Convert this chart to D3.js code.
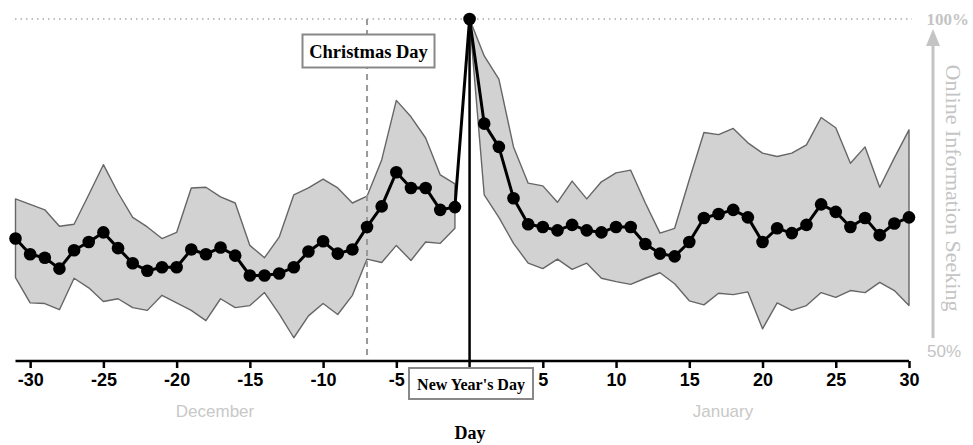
<!DOCTYPE html>
<html>
<head>
  <meta charset="utf-8">
  <title>Online Information Seeking around New Year</title>
  <script src="https://d3js.org/d3.v7.min.js"></script>
  <style>
    body { margin: 0; background: #fff; }
  </style>
</head>
<body>
  <svg width="973" height="445"></svg>
  <script>
    // day relative to New Year's Day
    const days = d3.range(-31, 31);

    // mean online information seeking (% of peak)
    const meanValues = [
      67.9, 65.6, 65.1, 63.5, 66.2, 67.4, 68.8, 66.5, 64.3, 63.2,
      63.7, 63.7, 66.3, 65.6, 66.6, 65.4, 62.5, 62.5, 62.8, 63.7,
      66.0, 67.5, 65.7, 66.3, 69.6, 72.6, 77.6, 75.3, 75.3, 72.1,
      72.5, 100,
      84.7, 81.3, 73.8, 70.0, 69.6, 69.1, 69.9, 69.1, 68.8, 69.6,
      69.6, 67.1, 65.7, 65.3, 67.4, 70.9, 71.5, 72.1, 71.0, 67.4,
      69.4, 68.7, 69.9, 72.9, 71.8, 69.6, 70.9, 68.4, 70.1, 71.0
    ];

    const upperValues = [
      73.7, 72.9, 72.1, 69.7, 70.0, 74.3, 78.7, 74.6, 71.0, 69.6,
      67.9, 68.8, 75.3, 75.4, 74.0, 73.1, 66.9, 65.1, 68.1, 74.3,
      75.3, 76.6, 75.3, 73.1, 74.1, 79.4, 88.1, 85.7, 82.6, 77.2,
      75.9, 100,
      94.6, 91.2, 81.3, 76.0, 75.6, 73.2, 76.3, 73.7, 76.2, 77.5,
      77.9, 73.1, 68.7, 69.4, 76.5, 83.4, 83.1, 84.0, 81.9, 80.4,
      79.9, 80.4, 81.6, 85.6, 84.1, 78.9, 81.3, 75.4, 79.7, 83.8
    ];

    const lowerValues = [
      62.2, 58.5, 58.4, 57.5, 62.1, 60.7, 58.7, 59.1, 57.8, 57.4,
      59.6, 58.5, 57.4, 55.9, 59.1, 57.8, 58.1, 60.0, 56.9, 53.4,
      56.6, 58.4, 56.8, 59.6, 64.9, 64.4, 66.9, 64.7, 67.4, 67.2,
      69.4, 100,
      74.3, 71.0, 67.2, 64.3, 63.5, 64.9, 63.4, 64.3, 62.1, 61.6,
      61.2, 62.1, 62.9, 61.3, 58.8, 58.2, 59.9, 59.7, 60.1, 54.7,
      58.5, 57.4, 58.1, 60.0, 59.3, 60.3, 60.0, 61.5, 60.3, 58.1
    ];

    const xTicks = [-30, -25, -20, -15, -10, -5, 0, 5, 10, 15, 20, 25, 30];
    const christmasDay = -7;
    const newYearsDay = 0;

    const data = days.map((d, i) => ({
      day: d, mean: meanValues[i], hi: upperValues[i], lo: lowerValues[i]
    }));

    const svg = d3.select("svg");

    const x = d3.scaleLinear().domain([-31, 30]).range([15.5, 909]);
    const y = d3.scaleLinear().domain([50, 100]).range([361, 19]);

    // top reference line at 100%
    svg.append("line")
      .attr("x1", 15).attr("x2", 912)
      .attr("y1", y(100)).attr("y2", y(100))
      .attr("stroke", "#aaa")
      .attr("stroke-width", 1.5)
      .attr("stroke-dasharray", "1.5,4");

    // spread band, drawn separately before and after New Year's Day
    const area = d3.area()
      .x(d => x(d.day))
      .y0(d => y(d.lo))
      .y1(d => y(d.hi));

    [data.filter(d => d.day < 0), data.filter(d => d.day >= 0)].forEach(seg => {
      svg.append("path")
        .datum(seg)
        .attr("d", area)
        .attr("fill", "#d2d2d2")
        .attr("stroke", "#666")
        .attr("stroke-width", 1.4)
        .attr("stroke-linejoin", "round");
    });

    // Christmas day marker
    svg.append("line")
      .attr("x1", x(christmasDay)).attr("x2", x(christmasDay))
      .attr("y1", y(100)).attr("y2", y(50) - 3)
      .attr("stroke", "#999")
      .attr("stroke-width", 2)
      .attr("stroke-dasharray", "6,5");

    // New Year's day marker
    svg.append("line")
      .attr("x1", x(newYearsDay)).attr("x2", x(newYearsDay))
      .attr("y1", y(100)).attr("y2", 368)
      .attr("stroke", "#000")
      .attr("stroke-width", 2.5);

    // x axis
    const xAxis = d3.axisBottom(x)
      .tickValues(xTicks.filter(t => t !== 0))
      .tickSize(7)
      .tickPadding(5)
      .tickFormat(d => String(d));

    const gx = svg.append("g")
      .attr("transform", `translate(0,${y(50)})`)
      .call(xAxis);
    gx.select(".domain")
      .attr("d", `M${x(-31)},0H${x(30)}`)
      .attr("stroke", "#000")
      .attr("stroke-width", 2.5);
    gx.selectAll(".tick line").attr("stroke", "#000").attr("stroke-width", 2.5);
    gx.selectAll(".tick text")
      .attr("fill", "#000")
      .style("font-family", "Liberation Sans, Arial, sans-serif")
      .style("font-size", "18px")
      .style("font-weight", "bold");

    // mean line with dots
    const line = d3.line().x(d => x(d.day)).y(d => y(d.mean));
    svg.append("path")
      .datum(data)
      .attr("d", line)
      .attr("fill", "none")
      .attr("stroke", "#000")
      .attr("stroke-width", 3)
      .attr("stroke-linejoin", "round");

    svg.selectAll("circle.pt")
      .data(data)
      .join("circle")
      .attr("class", "pt")
      .attr("cx", d => x(d.day))
      .attr("cy", d => y(d.mean))
      .attr("r", 6.3)
      .attr("fill", "#000");

    // annotation boxes
    function labelBox(cx, cy, w, h, text, size) {
      svg.append("rect")
        .attr("x", cx - w / 2).attr("y", cy - h / 2)
        .attr("width", w).attr("height", h)
        .attr("fill", "#fff")
        .attr("stroke", "#888")
        .attr("stroke-width", 2);
      svg.append("text")
        .attr("x", cx).attr("y", cy + 1)
        .attr("text-anchor", "middle")
        .attr("dominant-baseline", "central")
        .style("font-family", "Liberation Serif, Times New Roman, serif")
        .style("font-weight", "bold")
        .style("font-size", size + "px")
        .text(text);
    }
    labelBox(368.5, 51, 132, 33, "Christmas Day", 18.5);
    labelBox(471, 383.5, 124, 31, "New Year's Day", 16);

    // month labels
    svg.append("text")
      .attr("x", 215).attr("y", 411)
      .attr("text-anchor", "middle")
      .attr("dominant-baseline", "central")
      .attr("fill", "#c8c8c8")
      .style("font-family", "Liberation Sans, Arial, sans-serif")
      .style("font-size", "17px")
      .text("December");
    svg.append("text")
      .attr("x", 723).attr("y", 411)
      .attr("text-anchor", "middle")
      .attr("dominant-baseline", "central")
      .attr("fill", "#c8c8c8")
      .style("font-family", "Liberation Sans, Arial, sans-serif")
      .style("font-size", "17px")
      .text("January");

    // x title
    svg.append("text")
      .attr("x", 470).attr("y", 433)
      .attr("text-anchor", "middle")
      .attr("dominant-baseline", "central")
      .style("font-family", "Liberation Serif, Times New Roman, serif")
      .style("font-weight", "bold")
      .style("font-size", "18px")
      .text("Day");

    // right-hand grey arrow axis
    const ax = 933;
    svg.append("line")
      .attr("x1", ax).attr("x2", ax)
      .attr("y1", y(100) + 22).attr("y2", 338)
      .attr("stroke", "#c4c4c4")
      .attr("stroke-width", 3);
    svg.append("path")
      .attr("d", `M${ax - 7},${y(100) + 27}L${ax},${y(100) + 10}L${ax + 7},${y(100) + 27}Z`)
      .attr("fill", "#c4c4c4");

    svg.append("text")
      .attr("x", 969).attr("y", y(100))
      .attr("text-anchor", "end")
      .attr("dominant-baseline", "central")
      .attr("fill", "#c4c4c4")
      .style("font-family", "Liberation Serif, Times New Roman, serif")
      .style("font-weight", "bold")
      .style("font-size", "17px")
      .text("100%");
    svg.append("text")
      .attr("x", 961).attr("y", 351)
      .attr("text-anchor", "end")
      .attr("dominant-baseline", "central")
      .attr("fill", "#c4c4c4")
      .style("font-family", "Liberation Sans, Arial, sans-serif")
      .style("font-size", "17px")
      .text("50%");

    svg.append("text")
      .attr("transform", `translate(953,188) rotate(90)`)
      .attr("text-anchor", "middle")
      .attr("dominant-baseline", "central")
      .attr("fill", "#c4c4c4")
      .style("font-family", "Liberation Serif, Times New Roman, serif")
      .style("font-size", "22px")
      .text("Online Information Seeking");
  </script>
</body>
</html>
